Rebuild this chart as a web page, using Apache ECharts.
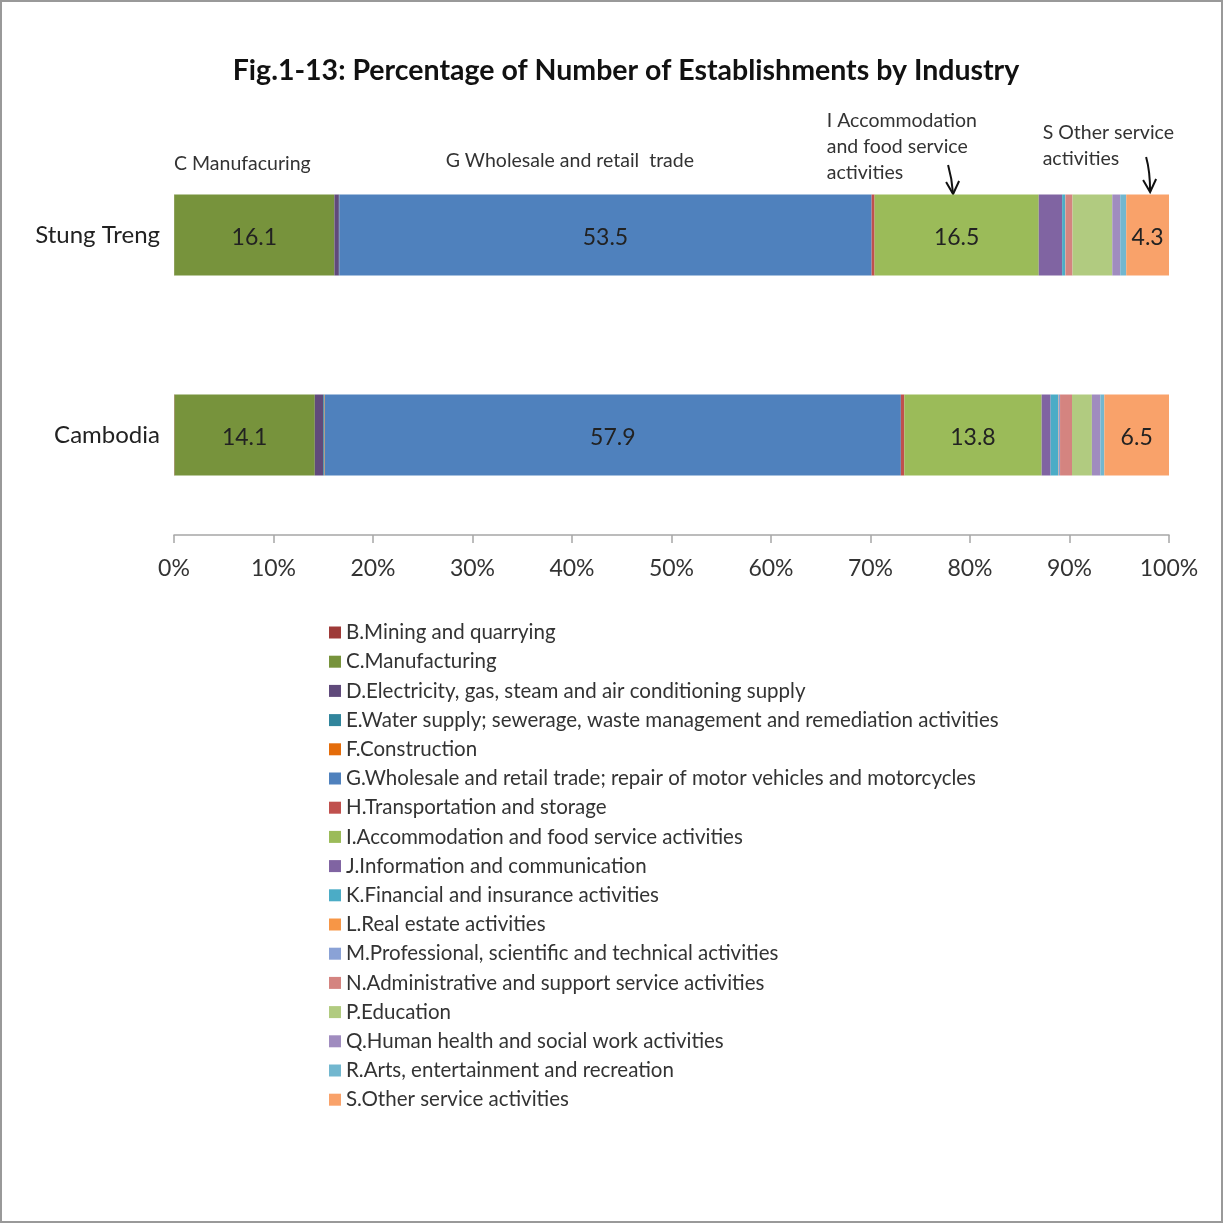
<!DOCTYPE html>
<html><head><meta charset="utf-8">
<script src="https://cdn.jsdelivr.net/npm/echarts@6/dist/echarts.min.js"></script>
<style>html,body{margin:0;padding:0;background:#fff}#c{width:1223px;height:1223px}</style>
</head><body><div id="c"></div>
<script>
const categories = ["Stung Treng", "Cambodia"];
const industries = [
  "B.Mining and quarrying",
  "C.Manufacturing",
  "D.Electricity, gas, steam and air conditioning supply",
  "E.Water supply; sewerage, waste management and remediation activities",
  "F.Construction",
  "G.Wholesale and retail trade; repair of motor vehicles and motorcycles",
  "H.Transportation and storage",
  "I.Accommodation and food service activities",
  "J.Information and communication",
  "K.Financial and insurance activities",
  "L.Real estate activities",
  "M.Professional, scientific and technical activities",
  "N.Administrative and support service activities",
  "P.Education",
  "Q.Human health and social work activities",
  "R.Arts, entertainment and recreation",
  "S.Other service activities"
];
// values per industry: [Stung Treng, Cambodia]
const valB = [0.02, 0.05];
const valC = [16.1, 14.1];
const valD = [0.45, 0.85];
const valE = [0.02, 0.1];
const valF = [0.02, 0.05];
const valG = [53.5, 57.9];
const valH = [0.3, 0.35];
const valI = [16.5, 13.8];
const valJ = [2.35, 0.9];
const valK = [0.3, 0.75];
const valL = [0.02, 0.05];
const valM = [0.02, 0.15];
const valN = [0.7, 1.2];
const valP = [4.0, 2.0];
const valQ = [0.8, 0.85];
const valR = [0.6, 0.4];
const valS = [4.3, 6.5];
const values = [valB, valC, valD, valE, valF, valG, valH, valI, valJ, valK, valL, valM, valN, valP, valQ, valR, valS];
const labelled = [false, true, false, false, false, true, false, true, false, false, false, false, false, false, false, false, true];
const colors = ["#9E3A38", "#77933C", "#604A7B", "#31859C", "#E46C0A", "#4F81BD", "#C0504D", "#9BBB59",
  "#8064A2", "#4BACC6", "#F79646", "#8AA2D6", "#D48480", "#B1CB80", "#A08CBF", "#72B7CF", "#F9A26A"];
const xTicks = { min: 0, max: 100, interval: 10 };

const FONT = "Lato, 'Open Sans', sans-serif";
const chart = echarts.init(document.getElementById('c'));

const series = industries.map((name, i) => ({
  name: name,
  type: 'bar',
  stack: 'total',
  barWidth: 81,
  data: values[i],
  itemStyle: { color: colors[i] },
  label: {
    show: labelled[i],
    position: 'inside',
    offset: [0, 3],
    fontFamily: FONT,
    fontSize: 23,
    color: '#222',
    formatter: p => p.value.toFixed(1)
  },
  emphasis: { disabled: true }
}));

chart.setOption({
  animation: false,
  backgroundColor: '#fff',
  title: {
    text: 'Fig.1-13: Percentage of Number of Establishments by Industry',
    left: 621, top: 51, textAlign: 'center',
    textStyle: { fontFamily: FONT, fontSize: 28.5, fontWeight: 'bold', color: '#111' }
  },
  grid: { left: 174, right: 54, top: 135, bottom: 688, containLabel: false },
  xAxis: {
    type: 'value', min: xTicks.min, max: xTicks.max, interval: xTicks.interval,
    axisLine: { show: true, lineStyle: { color: '#A6A6A6', width: 1.5 } },
    axisTick: { show: true, length: 8, lineStyle: { color: '#A6A6A6', width: 1.5 } },
    splitLine: { show: false },
    axisLabel: { formatter: '{value}%', fontFamily: FONT, fontSize: 23, color: '#333', margin: 22 }
  },
  yAxis: {
    type: 'category', data: categories, inverse: true,
    axisLine: { show: false }, axisTick: { show: false },
    axisLabel: { fontFamily: FONT, fontSize: 24, color: '#222', margin: 14, padding: [10, 0, 0, 0] }
  },
  legend: {
    orient: 'vertical', left: 324, top: 617,
    itemWidth: 12, itemHeight: 12, itemGap: 8.2, icon: 'rect',
    selectedMode: false,
    textStyle: { fontFamily: FONT, fontSize: 20.5, color: '#333', lineHeight: 21 },
    data: industries
  },
  series: series
});

// annotations positioned via the chart's own scales
function px(v, cat) { return chart.convertToPixel({ xAxisIndex: 0, yAxisIndex: 0 }, [v, cat]); }
const top0 = px(0, 0)[1] - 40; // top edge of Stung Treng bar
const annStyle = { fontFamily: FONT, fontSize: 19.5, fill: '#333', lineHeight: 26 };
function arrow(x1, y1, x2, y2) {
  return [
    { type: 'bezierCurve', shape: { x1: x1, y1: y1, x2: x2, y2: y2, cpx1: x1 + 4, cpy1: y1 + 14 }, style: { stroke: '#111', lineWidth: 2, fill: null } },
    { type: 'polyline', shape: { points: [[x2 - 7, y2 - 12], [x2, y2], [x2 + 6, y2 - 13]] }, style: { stroke: '#111', lineWidth: 2, fill: null } }
  ];
}
const pC = px(0, 0)[0], pG = px(27.3, 0)[0], pI = px(65.6, 0)[0], pS = px(87.3, 0)[0];
const aI = px(78.2, 0)[0], aS = px(98.0, 0)[0];
chart.setOption({
  graphic: [
    { type: 'rect', shape: { x: 1, y: 1, width: 1221, height: 1221 }, style: { fill: null, stroke: '#999', lineWidth: 2 } },
    { type: 'text', x: pC, y: top0 - 44, style: Object.assign({ text: 'C Manufacuring' }, annStyle) },
    { type: 'text', x: pG, y: top0 - 47, style: Object.assign({ text: 'G Wholesale and retail  trade' }, annStyle) },
    { type: 'text', x: pI, y: top0 - 87, style: Object.assign({ text: 'I Accommodation\nand food service\nactivities' }, annStyle) },
    { type: 'text', x: pS, y: top0 - 75, style: Object.assign({ text: 'S Other service\nactivities' }, annStyle) }
  ].concat(arrow(aI - 4, top0 - 30, aI + 1, top0 - 1)).concat(arrow(aS - 3, top0 - 38, aS + 1, top0 - 3))
});
</script></body></html>
